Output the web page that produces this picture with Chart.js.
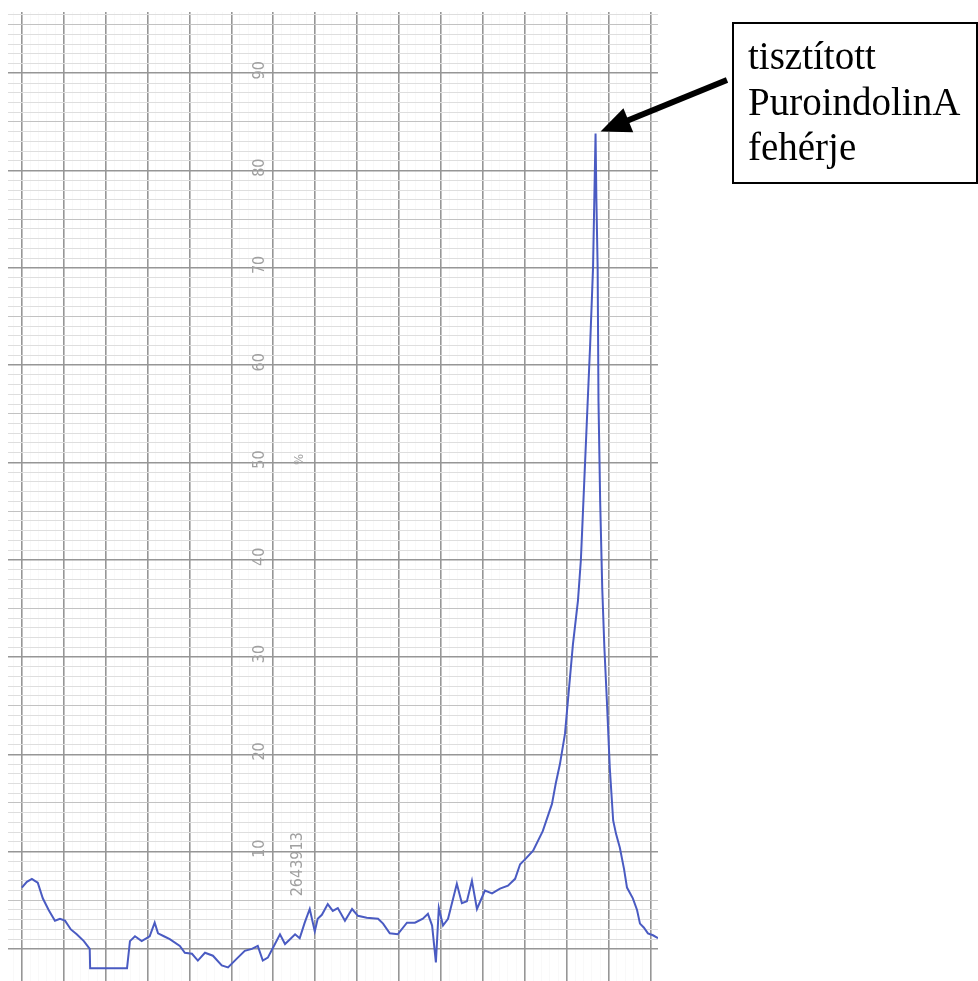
<!DOCTYPE html>
<html>
<head>
<meta charset="utf-8">
<script src="https://cdn.jsdelivr.net/npm/chart.js@4/dist/chart.umd.min.js"></script>
<style>
  body { margin: 0; background: #fff; }
  #wrap { width: 978px; height: 981px; }
</style>
</head>
<body>
<div id="wrap"><canvas id="c" width="978" height="981"></canvas></div>
<script>
// recorder trace, x in chart divisions (10 per major line), y in %
const traceX = [0.0, 1.2, 2.4, 3.1, 3.8, 5.0, 6.4, 7.9, 9.1, 10.3, 11.7, 13.1, 14.8, 16.2, 16.3, 25.1,
  25.8, 27.0, 28.6, 30.5, 31.7, 32.5, 33.9, 35.3, 37.7, 38.9, 40.6, 42.0, 43.7, 45.6, 47.7, 49.2,
  51.3, 53.2, 54.9, 56.3, 57.5, 58.7, 59.9, 61.6, 62.8, 64.0, 65.2, 66.3, 67.5, 68.7, 69.9, 70.6,
  71.6, 73.0, 74.2, 75.4, 77.1, 78.8, 80.2, 82.3, 85.0, 86.2, 87.8, 89.7, 91.9, 93.8, 95.7, 96.9,
  97.9, 98.8, 99.5, 100.5, 101.7, 103.8, 105.0, 106.2, 107.4, 108.6, 110.5, 112.2, 114.1, 116.0,
  117.7, 118.9, 120.3, 122.0, 124.3, 126.5, 127.4, 128.4, 129.6, 130.8, 131.5, 132.7, 133.4, 134.1,
  134.8, 135.6, 136.3, 136.6, 136.9, 137.1, 137.4, 137.6, 138.0, 138.5, 139.0, 139.6, 140.3, 141.1,
  141.8, 142.7, 143.7, 144.4, 145.8, 146.8, 147.5, 148.4, 149.4, 150.6, 151.8];
const traceY = [6.3, 6.9, 7.2, 7.0, 6.8, 5.2, 4.0, 2.9, 3.1, 2.9, 2.0, 1.5, 0.8, 0.0, -2.0, -2.0,
  0.8, 1.3, 0.8, 1.3, 2.7, 1.6, 1.3, 1.0, 0.3, -0.4, -0.5, -1.2, -0.4, -0.7, -1.7, -1.9,
  -1.0, -0.2, 0.0, 0.3, -1.2, -0.9, 0.1, 1.5, 0.5, 1.0, 1.5, 1.1, 2.7, 4.1, 1.8, 3.1,
  3.5, 4.6, 3.9, 4.2, 2.9, 4.1, 3.4, 3.2, 3.1, 2.6, 1.6, 1.5, 2.7, 2.7, 3.1, 3.6,
  2.4, -1.4, 4.2, 2.4, 3.1, 6.7, 4.7, 4.9, 7.0, 4.1, 6.0, 5.7, 6.2, 6.5,
  7.2, 8.7, 9.3, 10.1, 12.1, 14.9, 17.0, 19.0, 22.1, 27.9, 31.3, 35.8, 40.0, 47,
  54, 62, 70, 77, 83.8, 77, 70, 56.3, 46, 37, 31, 25.5, 18.6, 13.2,
  11.8, 10.4, 8.2, 6.3, 5.2, 4.0, 2.6, 2.2, 1.6, 1.4, 1.1];

const yLabels = [10, 20, 30, 40, 50, 60, 70, 80, 90];
const annotLines = ['tisztított', 'PuroindolinA', 'fehérje'];
const peakIndex = traceY.indexOf(Math.max(...traceY));

const xGridTicks = [];
for (let v = -2; v <= 150; v += 2) xGridTicks.push(v);
const yGridTicks = [];
for (let v = 0; v <= 96; v++) yGridTicks.push(v);

const points = traceX.map((x, i) => ({ x: x, y: traceY[i] }));

const paperText = {
  id: 'paperText',
  beforeDatasetsDraw(chart) {
    const ctx = chart.ctx, xs = chart.scales.x, ys = chart.scales.y;
    ctx.save();
    ctx.fillStyle = '#a0a0a0';
    ctx.textAlign = 'center';
    ctx.textBaseline = 'middle';
    const rotText = (txt, xv, yv, size) => {
      ctx.save();
      ctx.translate(xs.getPixelForValue(xv), ys.getPixelForValue(yv));
      ctx.rotate(-Math.PI / 2);
      ctx.font = size + 'px "DejaVu Sans Condensed", "DejaVu Sans", sans-serif';
      ctx.fillText(txt, 0, 0);
      ctx.restore();
    };
    yLabels.forEach(v => rotText(String(v), 56.8, v + 0.3, 16));
    rotText('%', 66.3, 50.3, 13);
    rotText('2643913', 65.9, 8.7, 16);
    ctx.restore();
  }
};

const annotation = {
  id: 'annotation',
  afterDraw(chart) {
    const ctx = chart.ctx, xs = chart.scales.x, ys = chart.scales.y;
    ctx.save();
    // box
    ctx.strokeStyle = '#000';
    ctx.lineWidth = 2;
    ctx.strokeRect(733, 23, 244, 160);
    ctx.fillStyle = '#000';
    ctx.font = '39px "Liberation Serif", "Times New Roman", serif';
    ctx.textBaseline = 'alphabetic';
    ctx.textAlign = 'left';
    annotLines.forEach((t, i) => ctx.fillText(t, 748, 69 + i * 45.5));
    // arrow to the peak
    const tipX = xs.getPixelForValue(traceX[peakIndex]) + 5;
    const tipY = ys.getPixelForValue(traceY[peakIndex]) - 2;
    const tailX = 727, tailY = 80;
    const dx = tipX - tailX, dy = tipY - tailY;
    const len = Math.hypot(dx, dy), ux = dx / len, uy = dy / len;
    const headLen = 30, headW = 13;
    const bx = tipX - ux * headLen, by = tipY - uy * headLen;
    ctx.lineWidth = 6;
    ctx.beginPath();
    ctx.moveTo(tailX, tailY);
    ctx.lineTo(bx + ux * 4, by + uy * 4);
    ctx.stroke();
    ctx.beginPath();
    ctx.moveTo(tipX, tipY);
    ctx.lineTo(bx - uy * headW, by + ux * headW);
    ctx.lineTo(bx + uy * headW, by - ux * headW);
    ctx.closePath();
    ctx.fill();
    ctx.restore();
  }
};

new Chart(document.getElementById('c').getContext('2d'), {
  type: 'line',
  data: {
    datasets: [{
      data: points,
      borderColor: '#4a5bc2',
      borderWidth: 2,
      pointRadius: 0,
      tension: 0,
      fill: false
    }]
  },
  options: {
    responsive: false,
    animation: false,
    layout: { padding: { left: 8, top: 12, right: 320, bottom: 0 } },
    plugins: { legend: { display: false }, tooltip: { enabled: false } },
    scales: {
      x: {
        type: 'linear',
        min: -3.3,
        max: 151.8,
        afterBuildTicks: axis => { axis.ticks = xGridTicks.map(v => ({ value: v })); },
        ticks: { display: false },
        border: { display: false },
        grid: {
          drawTicks: false,
          color: c => (c.tick.value % 10 === 0 ? '#969696' : 'rgba(0,0,0,0.025)'),
          lineWidth: c => (c.tick.value % 10 === 0 ? 1.6 : 1)
        }
      },
      y: {
        type: 'linear',
        min: -3.3,
        max: 96.3,
        afterBuildTicks: axis => { axis.ticks = yGridTicks.map(v => ({ value: v })); },
        ticks: { display: false },
        border: { display: false },
        grid: {
          drawTicks: false,
          color: c => (c.tick.value % 10 === 0 ? '#969696' : c.tick.value % 5 === 0 ? '#c2c2c2' : '#dedede'),
          lineWidth: c => (c.tick.value % 10 === 0 ? 1.6 : 1)
        }
      }
    }
  },
  plugins: [paperText, annotation]
});
</script>
</body>
</html>
